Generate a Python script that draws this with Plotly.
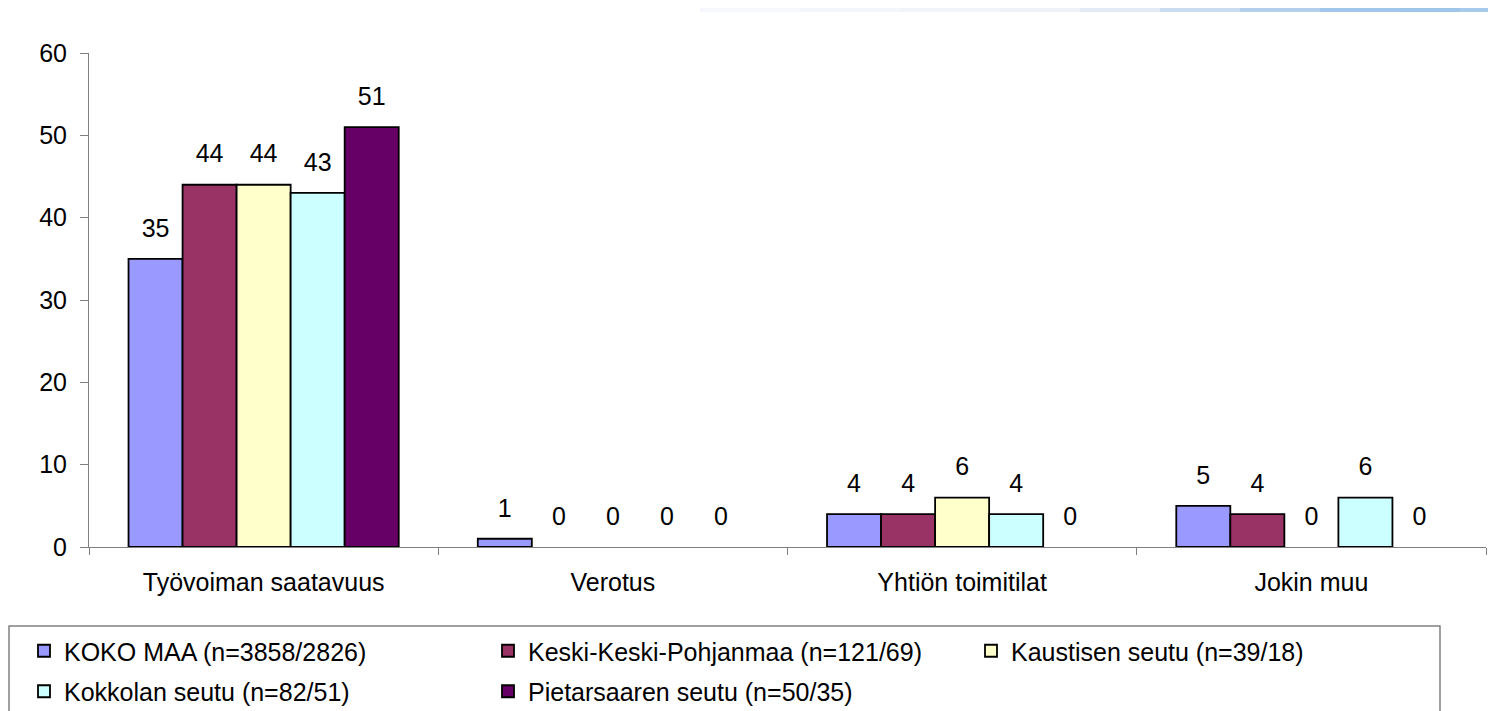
import plotly.graph_objects as go

categories = ["Työvoiman saatavuus", "Verotus", "Yhtiön toimitilat", "Jokin muu"]
series_names = [
    "KOKO MAA (n=3858/2826)",
    "Keski-Keski-Pohjanmaa (n=121/69)",
    "Kaustisen seutu (n=39/18)",
    "Kokkolan seutu (n=82/51)",
    "Pietarsaaren seutu (n=50/35)",
]
values = [
    [35, 1, 4, 5],
    [44, 0, 4, 4],
    [44, 0, 6, 0],
    [43, 0, 4, 6],
    [51, 0, 0, 0],
]
colors = ["#9999FF", "#993366", "#FFFFCC", "#CCFFFF", "#660066"]
y_ticks = [0, 10, 20, 30, 40, 50, 60]

FONT = "Liberation Sans, Arial, sans-serif"
FS = 25
OFF = 8  # default page body margin around the plot div
W, H = 1496 - OFF, 711 - OFF
L, R, T, B = 89 - OFF, 10, 53 - OFF, 164
PW, PH = W - L - R, H - T - B

def px_x(page_px):
    return (page_px - OFF - L) / PW

def px_y(page_py):
    return (H - B - (page_py - OFF)) / PH

bar_w = 54 / 349  # fraction of one category slot
n = len(series_names)
legend_of = ["legend", "legend2", "legend3", "legend", "legend2"]

fig = go.Figure()
for j, (name, vals, col) in enumerate(zip(series_names, values, colors)):
    xs = [i + (j - (n - 1) / 2) * bar_w for i in range(len(categories))]
    fig.add_trace(go.Bar(
        x=xs, y=vals, width=bar_w, name=name,
        marker=dict(color=col, line=dict(color="black",
                                         width=[1.8 if v else 0 for v in vals])),
        legend=legend_of[j], legendgroup=name,
        hoverinfo="skip",
    ))
    fig.add_trace(go.Scatter(
        x=xs, y=vals, mode="markers+text", text=[str(v) for v in vals],
        textposition="top center",
        textfont=dict(family=FONT, size=FS, color="black"),
        marker=dict(size=24, opacity=0),
        showlegend=False, hoverinfo="skip", cliponaxis=False,
    ))

shapes = []
# legend frame
shapes.append(dict(type="rect", xref="paper", yref="paper",
                   x0=px_x(OFF + 1), x1=px_x(1440), y0=px_y(626), y1=px_y(740),
                   line=dict(color="#808080", width=1.5), fillcolor="rgba(0,0,0,0)"))
# top-right decorative gradient strip
grad = [(700, "#f7f8fd"), (800, "#f3f7fb"), (900, "#f1f5f9"), (1000, "#eef2f8"),
        (1080, "#e2eaf6"), (1160, "#ccdcf0"), (1240, "#b5d0ec"), (1320, "#a3c7ea"),
        (1400, "#9fc5e8"), (1460, "#a7cbec")]
for k, (x0, c) in enumerate(grad):
    x1 = grad[k + 1][0] if k + 1 < len(grad) else W + OFF
    shapes.append(dict(type="rect", xref="paper", yref="paper",
                       x0=px_x(x0), x1=px_x(x1), y0=px_y(OFF + 4), y1=px_y(OFF),
                       line=dict(width=0), fillcolor=c, layer="below"))

leg_common = dict(
    orientation="v", yanchor="top", xanchor="left",
    bgcolor="rgba(0,0,0,0)", borderwidth=0,
    font=dict(family=FONT, size=FS, color="black"),
    traceorder="grouped", tracegroupgap=5, itemclick=False,
)

fig.update_layout(
    width=W, height=H,
    margin=dict(l=L, r=R, t=T, b=B, autoexpand=False),
    paper_bgcolor="white", plot_bgcolor="white",
    font=dict(family=FONT, size=FS, color="black"),
    barmode="overlay",
    showlegend=True,
    legend=dict(x=px_x(24), y=px_y(628), **leg_common),
    legend2=dict(x=px_x(488), y=px_y(628), **leg_common),
    legend3=dict(x=px_x(971), y=px_y(628), **leg_common),
    shapes=shapes,
    xaxis=dict(
        range=[-0.5, len(categories) - 0.5],
        tickvals=list(range(len(categories))), ticktext=categories,
        ticks="", showgrid=False, zeroline=False,
        showline=True, linecolor="#808080", linewidth=1,
        tickfont=dict(family=FONT, size=FS, color="black"),
        ticklabelstandoff=13,
        minor=dict(tickvals=[i - 0.5 for i in range(len(categories) + 1)],
                   ticks="outside", ticklen=7, tickcolor="#808080", tickwidth=1),
        fixedrange=True,
    ),
    yaxis=dict(
        range=[0, 60], tickvals=y_ticks,
        ticks="outside", ticklen=8, tickcolor="#808080", tickwidth=1,
        showline=True, linecolor="#808080", linewidth=1,
        showgrid=False, zeroline=False,
        tickfont=dict(family=FONT, size=FS, color="black"),
        ticklabelstandoff=8,
        fixedrange=True,
    ),
)

fig.write_html("out.html")
